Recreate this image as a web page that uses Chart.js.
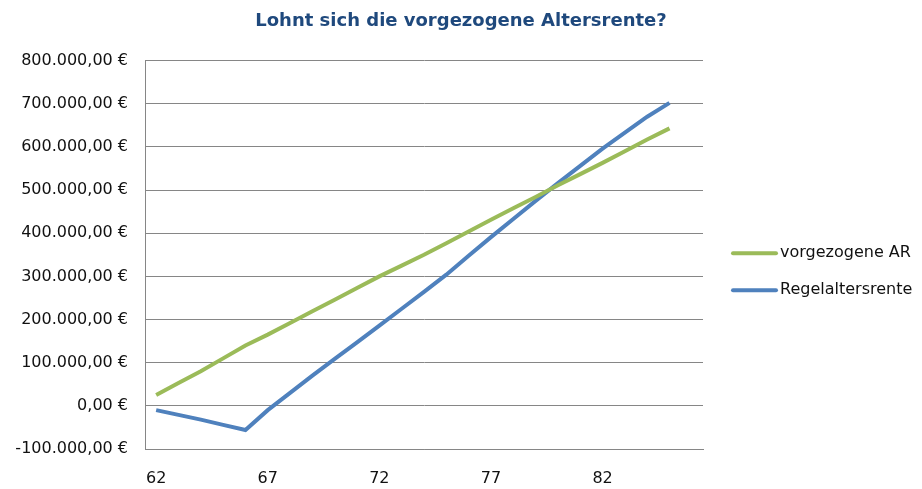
<!DOCTYPE html>
<html lang="de">
<head>
<meta charset="utf-8">
<title>Lohnt sich die vorgezogene Altersrente?</title>
<script src="https://cdn.jsdelivr.net/npm/chart.js@4/dist/chart.umd.min.js"></script>
<style>
  html, body { margin: 0; padding: 0; background: #fff; }
  #wrap { width: 922px; height: 489px; }
</style>
</head>
<body>
<div id="wrap"><canvas id="renteChart" width="922" height="489"></canvas></div>
<script>
// Daten (Alter in Jahren, kumulierte Summe in Euro)
const ages = ['62', '63', '64', '65', '66', '67', '68', '69', '70', '71', '72', '73', '74',
  '75', '76', '77', '78', '79', '80', '81', '82', '83', '84', '85', '86']
const vorgezogeneAR = [25000, 53000, 80000, 110000, 140000, 165000, 192000, 219000, 246000,
  273000, 300000, 325000, 350000, 377000, 404000, 431000, 458000, 484000, 511000, 537000,
  563000, 590000, 617000, 643000, null]
const regelaltersrente = [-10000, -21000, -32000, -44000, -56000, -10000, 30000, 70000, 109000,
  147000, 186000, 225000, 264000, 304000, 348000, 391000, 433000, 475000, 516000, 556000,
  596000, 633000, 670000, 702000, null]
const xTickLabels = ['62', '67', '72', '77', '82']
const yMin = -100000
const yMax = 800000
const yStep = 100000

const euro = new Intl.NumberFormat('de-DE', { style: 'currency', currency: 'EUR', minimumFractionDigits: 2 })
const FONT = 'DejaVu Sans'

// Legende rechts neben dem Diagramm (Linie + Text)
const sideLegend = {
  id: 'sideLegend',
  afterDraw(chart) {
    const { ctx, chartArea } = chart
    const midY = (chartArea.top + chartArea.bottom) / 2 + 17
    ctx.save()
    ctx.font = '16px "' + FONT + '"'
    ctx.textBaseline = 'middle'
    ctx.textAlign = 'left'
    chart.data.datasets.forEach((ds, i) => {
      const y = midY + (i - 0.5) * 37
      const x = chartArea.right + 30
      ctx.strokeStyle = ds.borderColor
      ctx.lineWidth = 4
      ctx.lineCap = 'round'
      ctx.beginPath()
      ctx.moveTo(x, y)
      ctx.lineTo(x + 43, y)
      ctx.stroke()
      ctx.fillStyle = '#111'
      ctx.fillText(ds.label, x + 47, y)
    })
    ctx.restore()
  }
}

new Chart(document.getElementById('renteChart'), {
  type: 'line',
  data: {
    labels: ages,
    datasets: [
      {
        label: 'vorgezogene AR',
        data: vorgezogeneAR,
        borderColor: '#9BBB59',
        borderWidth: 4,
        pointRadius: 0,
        tension: 0
      },
      {
        label: 'Regelaltersrente',
        data: regelaltersrente,
        borderColor: '#4F81BD',
        borderWidth: 4,
        pointRadius: 0,
        tension: 0
      }
    ]
  },
  options: {
    responsive: false,
    animation: false,
    events: [],
    plugins: {
      legend: { display: false },
      tooltip: { enabled: false },
      title: {
        display: true,
        text: 'Lohnt sich die vorgezogene Altersrente?',
        color: '#1F497D',
        font: { family: FONT, size: 18, weight: 'bold' },
        padding: { top: 11, bottom: 28 }
      }
    },
    scales: {
      x: {
        offset: true,
        grid: { display: false, drawTicks: false },
        border: { display: true, color: '#868686', width: 1 },
        ticks: {
          autoSkip: false,
          maxRotation: 0,
          padding: 20,
          color: '#111',
          font: { family: FONT, size: 16 },
          callback: function (value, index) {
            const l = this.getLabelForValue(value)
            return xTickLabels.includes(l) ? l : ''
          }
        },
        afterFit: (scale) => { scale.height = 40 }
      },
      y: {
        min: yMin,
        max: yMax,
        grid: { color: '#868686', lineWidth: 1, drawTicks: false },
        border: { display: true, color: '#868686', width: 1 },
        ticks: {
          stepSize: yStep,
          padding: 17,
          color: '#111',
          font: { family: FONT, size: 16 },
          callback: (value) => euro.format(value)
        },
        afterFit: (scale) => { scale.width = 145 }
      },
      // leere Achse rechts: Platz für die Legende
      legendSpace: {
        position: 'right',
        grid: { display: false, drawTicks: false },
        border: { display: false },
        ticks: { display: false },
        afterFit: (scale) => { scale.width = 219 }
      }
    }
  },
  plugins: [sideLegend]
})
</script>
</body>
</html>
